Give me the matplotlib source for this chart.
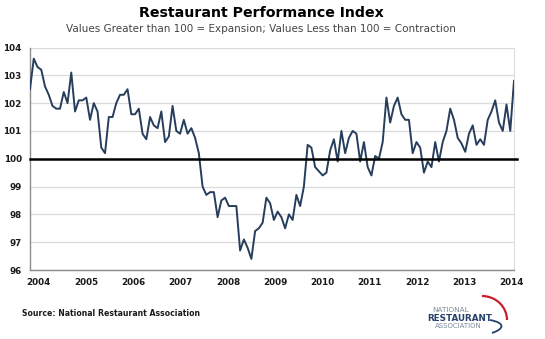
import numpy as np
import matplotlib.pyplot as plt
from matplotlib.patches import Arc
from matplotlib.path import Path
from matplotlib.patches import PathPatch

# monthly index values, late 2003 through early 2014
rpi = [
    102.5, 103.6, 103.3, 103.2, 102.6, 102.3, 101.9, 101.8, 101.8, 102.4,
    102.0, 103.1, 101.7, 102.1, 102.1, 102.2, 101.4, 102.0, 101.7, 100.4,
    100.2, 101.5, 101.5, 102.0, 102.3, 102.3, 102.5, 101.6, 101.6, 101.8,
    100.9, 100.7, 101.5, 101.2, 101.1, 101.7, 100.6, 100.8, 101.9, 101.0,
    100.9,
    101.4, 100.9, 101.1, 100.75, 100.2, 99.0, 98.7, 98.8, 98.8, 97.9,
    98.5, 98.6, 98.3, 98.3, 98.3, 96.7, 97.1, 96.8, 96.4, 97.4,
    97.5, 97.7, 98.6,
    98.4, 97.8, 98.1, 97.9, 97.5, 98.0, 97.8, 98.7, 98.3, 99.0,
    100.5, 100.4, 99.7, 99.55, 99.4, 99.5, 100.3, 100.7, 99.9, 101.0,
    100.2, 100.75, 101.0, 100.9, 99.9, 100.6, 99.7, 99.4, 100.1, 100.0,
    100.6,
    102.2, 101.3, 101.9, 102.2, 101.6, 101.4, 101.4, 100.2, 100.6, 100.4,
    99.5, 99.9, 99.7, 100.6, 99.9, 100.6, 101.0, 101.8, 101.4, 100.75,
    100.55, 100.25, 100.9, 101.2, 100.5, 100.7, 100.5, 101.4, 101.7, 102.1,
    101.3, 101.0, 101.95, 101.0, 102.8,
]
year_ticks = list(range(2004, 2015))
y_ticks = list(range(96, 105))

x_start, x_end = 2003.816, 2014.05
dates = np.linspace(x_start, x_end, len(rpi))

W, H = 545, 339
fig = plt.figure(figsize=(W / 100, H / 100), dpi=100)
fig.patch.set_facecolor('white')

ax = fig.add_axes([30 / W, 1 - 270 / H, 484 / W, 222.5 / H])
ax.plot(dates, rpi, color='#263d5c', lw=1.4, zorder=3)
ax.axhline(100, xmin=0, xmax=1.007, color='black', lw=1.8, zorder=4,
           clip_on=False)
ax.set_xlim(x_start, x_end)
ax.set_ylim(96, 104)
ax.set_yticks(y_ticks)
ax.set_xticks(year_ticks)
ax.grid(axis='y', color='#dadada', lw=0.9, zorder=0)
ax.set_axisbelow(True)
ax.tick_params(length=0, labelsize=6.3, colors='#1a1a1a')
ax.tick_params(axis='y', pad=6)
ax.tick_params(axis='x', pad=6)
for lbl in ax.get_xticklabels() + ax.get_yticklabels():
    lbl.set_fontweight('bold')
for side in ['left', 'bottom']:
    ax.spines[side].set_color('#8c8c8c')
    ax.spines[side].set_linewidth(1.0)
ax.spines['right'].set_color('#dcdcdc')
ax.spines['top'].set_visible(False)

fig.text(261 / W, 1 - 13 / H, 'Restaurant Performance Index',
         ha='center', va='center', fontsize=10.2, fontweight='bold')
fig.text(261 / W, 1 - 29 / H,
         'Values Greater than 100 = Expansion; Values Less than 100 = Contraction',
         ha='center', va='center', fontsize=7.5, color='#444444')
fig.text(22.5 / W, 1 - 313 / H, 'Source: National Restaurant Association',
         ha='left', va='center', fontsize=5.6, fontweight='bold', color='#1a1a1a')

# association logo
fig.text(451 / W, 1 - 310 / H, 'NATIONAL', ha='center', va='center',
         fontsize=5.2, color='#7a8a99')
fig.text(459.5 / W, 1 - 318.5 / H, 'RESTAURANT', ha='center', va='center',
         fontsize=6.3, fontweight='bold', color='#24406b')
fig.text(458 / W, 1 - 326.5 / H, 'ASSOCIATION', ha='center', va='center',
         fontsize=5.0, color='#7a8a99')

lax = fig.add_axes([0, 0, 1, 1])
lax.set_xlim(0, W)
lax.set_ylim(H, 0)
lax.axis('off')
lax.add_patch(Arc((482, 320), 50, 48, theta1=270, theta2=360,
                  color='#c8202f', lw=1.6))
swoosh = Path([(490, 320), (506, 323), (504, 329), (492, 333)],
              [Path.MOVETO, Path.CURVE4, Path.CURVE4, Path.CURVE4])
lax.add_patch(PathPatch(swoosh, fill=False, color='#24406b', lw=1.3))

fig.savefig('out.png', dpi=100)
